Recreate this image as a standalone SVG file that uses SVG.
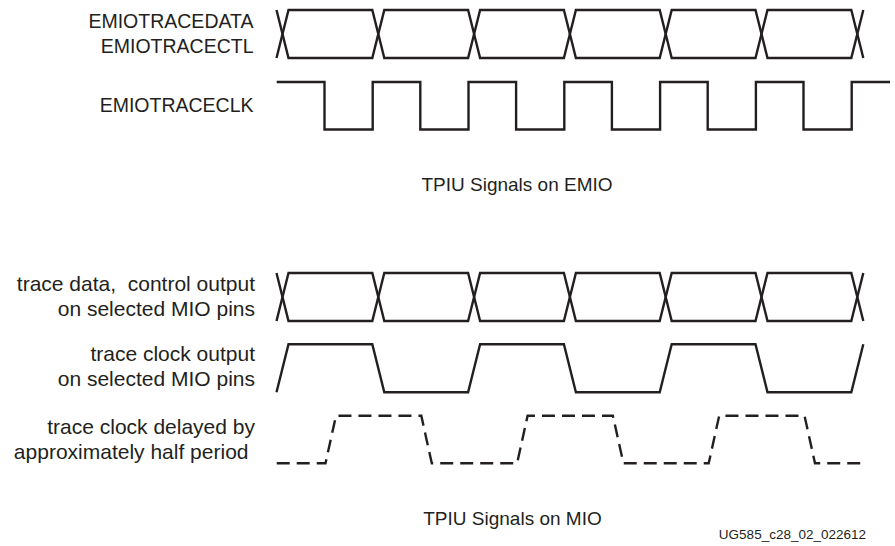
<svg xmlns="http://www.w3.org/2000/svg" width="895" height="546" viewBox="0 0 895 546">
<style>
.lbl{font-family:"Liberation Sans",Arial,Helvetica,sans-serif;font-size:21px;fill:#231f20;text-anchor:end}
.sm{font-size:19.5px}
.ttl{font-family:"Liberation Sans",Arial,Helvetica,sans-serif;font-size:19px;fill:#231f20;text-anchor:middle}
.ftr{font-family:"Liberation Sans",Arial,Helvetica,sans-serif;font-size:13.5px;fill:#231f20;text-anchor:end}
.w{fill:none;stroke:#231f20;stroke-width:2.4;stroke-linejoin:miter;stroke-linecap:butt}
.d{stroke-dasharray:13 7}
</style>
<rect width="895" height="546" fill="#ffffff"/>
<g id="emio-data">
<text class="lbl sm" x="253.5" y="28">EMIOTRACEDATA</text>
<text class="lbl sm" x="253.5" y="53">EMIOTRACECTL</text>
</g>
<g id="emio-clk">
<text class="lbl sm" x="253.5" y="112">EMIOTRACECLK</text>
</g>
<g id="mio-data">
<text class="lbl" x="255" y="291" xml:space="preserve">trace data,  control output</text>
<text class="lbl" x="255" y="316">on selected MIO pins</text>
</g>
<g id="mio-clk">
<text class="lbl" x="255" y="361">trace clock output</text>
<text class="lbl" x="255" y="386">on selected MIO pins</text>
</g>
<g id="mio-clk-delayed">
<text class="lbl" x="255" y="434">trace clock delayed by</text>
<text class="lbl" x="248.5" y="458.5">approximately half period</text>
</g>
<g id="connectors">
<path class="w" d="M276.5,10 L288.5,58 L372.3,58 L384.3,10 L468.1,10 L480.1,58 L563.9,58 L575.9,10 L659.7,10 L671.7,58 L755.5,58 L767.5,10 L851.3,10 L863.3,58"/>
<path class="w" d="M276.5,58 L288.5,10 L372.3,10 L384.3,58 L468.1,58 L480.1,10 L563.9,10 L575.9,58 L659.7,58 L671.7,10 L755.5,10 L767.5,58 L851.3,58 L863.3,10"/>
<path class="w" d="M276.7,82 H324.5 V129.5 H372.7 V82 H420.3 V129.5 H468.5 V82 H516.1 V129.5 H564.3 V82 H611.9 V129.5 H660.1 V82 H707.7 V129.5 H755.9 V82 H803.5 V129.5 H851.7 V82 H890"/>
<path class="w" d="M276.5,273 L288.5,321 L372.3,321 L384.3,273 L468.1,273 L480.1,321 L563.9,321 L575.9,273 L659.7,273 L671.7,321 L755.5,321 L767.5,273 L851.3,273 L863.3,321"/>
<path class="w" d="M276.5,321 L288.5,273 L372.3,273 L384.3,321 L468.1,321 L480.1,273 L563.9,273 L575.9,321 L659.7,321 L671.7,273 L755.5,273 L767.5,321 L851.3,321 L863.3,273"/>
<path class="w" d="M276.5,392.3 L288.5,344.3 H372.3 L384.3,392.3 H468.1 L480.1,344.3 H563.9 L575.9,392.3 H659.7 L671.7,344.3 H755.5 L767.5,392.3 H851.3 L863.3,344.3"/>
<path class="w d" d="M276.7,463.3 H325.5 L336,415.7 H421.3 L431.8,463.3 H517.1 L527.6,415.7 H612.9 L623.4,463.3 H708.7 L719.2,415.7 H804.5 L815,463.3 H866.7"/>
</g>
<g id="titles">
<text class="ttl" x="517" y="191">TPIU Signals on EMIO</text>
<text class="ttl" x="512.5" y="525">TPIU Signals on MIO</text>
<text class="ftr" x="866" y="539">UG585_c28_02_022612</text>
</g>
</svg>
